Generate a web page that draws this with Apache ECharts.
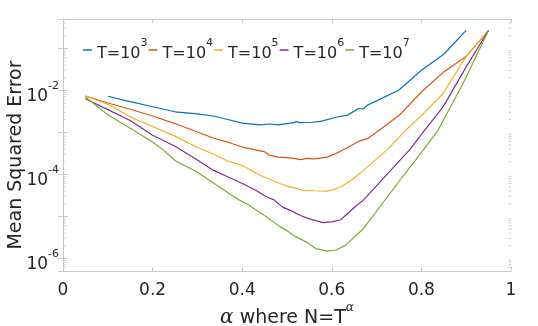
<!DOCTYPE html>
<html>
<head>
<meta charset="utf-8">
<script src="https://cdn.jsdelivr.net/npm/echarts@6/dist/echarts.min.js"></script>
<style>
html,body{margin:0;padding:0;background:#fff;}
#chart{width:538px;height:326px;}
</style>
</head>
<body>
<div id="chart"></div>
<script>
// ---- data ----
const seriesNames = ['T=10^3', 'T=10^4', 'T=10^5', 'T=10^6', 'T=10^7'];
const seriesColors = ['#0072BD', '#D95319', '#EDB120', '#7E2F8E', '#77AC30'];

const alphaT3 = [0.10, 0.15, 0.20, 0.25, 0.30, 0.335, 0.37, 0.40, 0.44, 0.46, 0.48, 0.50, 0.515, 0.52, 0.53, 0.555, 0.575, 0.61, 0.635, 0.66, 0.67, 0.68, 0.70, 0.75, 0.80, 0.85, 0.90];
const mseT3 = [7.24e-3, 5.37e-3, 4.07e-3, 3.09e-3, 2.75e-3, 2.45e-3, 2.0e-3, 1.66e-3, 1.51e-3, 1.58e-3, 1.51e-3, 1.62e-3, 1.70e-3, 1.80e-3, 1.70e-3, 1.74e-3, 1.82e-3, 2.29e-3, 2.57e-3, 3.70e-3, 3.60e-3, 4.47e-3, 5.62e-3, 1.02e-2, 3.02e-2, 7.24e-2, 0.269];

const alphaT4 = [0.05, 0.10, 0.15, 0.20, 0.25, 0.30, 0.335, 0.37, 0.40, 0.44, 0.45, 0.46, 0.48, 0.50, 0.515, 0.53, 0.545, 0.56, 0.59, 0.61, 0.63, 0.665, 0.68, 0.75, 0.80, 0.85, 0.90, 0.95];
const mseT4 = [7.33e-3, 5.01e-3, 3.55e-3, 2.45e-3, 1.62e-3, 1.02e-3, 7.33e-4, 5.75e-4, 4.47e-4, 3.63e-4, 3.47e-4, 2.88e-4, 2.57e-4, 2.51e-4, 2.40e-4, 2.24e-4, 2.40e-4, 2.34e-4, 2.57e-4, 3.16e-4, 4.07e-4, 6.46e-4, 7.08e-4, 2.51e-3, 9.12e-3, 2.75e-2, 6.46e-2, 0.269];

const alphaT5 = [0.05, 0.10, 0.15, 0.20, 0.25, 0.30, 0.335, 0.365, 0.40, 0.44, 0.48, 0.505, 0.52, 0.535, 0.56, 0.59, 0.60, 0.62, 0.645, 0.665, 0.725, 0.765, 0.80, 0.848, 0.90, 0.95];
const mseT5 = [7.33e-3, 4.68e-3, 2.34e-3, 1.38e-3, 8.13e-4, 4.37e-4, 3.09e-4, 2.14e-4, 1.62e-4, 9.55e-5, 6.31e-5, 5.01e-5, 4.68e-5, 4.17e-5, 4.07e-5, 3.98e-5, 4.27e-5, 5.01e-5, 7.41e-5, 1.10e-4, 3.98e-4, 1.12e-3, 2.51e-3, 8.32e-3, 6.46e-2, 0.269];

const alphaT6 = [0.05, 0.10, 0.15, 0.20, 0.25, 0.30, 0.335, 0.37, 0.405, 0.43, 0.455, 0.47, 0.49, 0.51, 0.53, 0.55, 0.58, 0.60, 0.62, 0.655, 0.67, 0.775, 0.807, 0.848, 0.90, 0.95];
const mseT6 = [6.31e-3, 3.47e-3, 1.91e-3, 8.51e-4, 4.68e-4, 2.19e-4, 1.26e-4, 8.51e-5, 5.75e-5, 4.17e-5, 2.88e-5, 2.51e-5, 1.66e-5, 1.35e-5, 1.05e-5, 8.71e-6, 7.08e-6, 7.41e-6, 8.32e-6, 1.82e-5, 2.40e-5, 3.98e-4, 1.12e-3, 3.98e-3, 3.63e-2, 0.269];

const alphaT7 = [0.05, 0.10, 0.15, 0.20, 0.225, 0.25, 0.30, 0.335, 0.37, 0.395, 0.41, 0.45, 0.485, 0.50, 0.52, 0.545, 0.565, 0.59, 0.61, 0.63, 0.67, 0.75, 0.805, 0.837, 0.893, 0.95];
const mseT7 = [6.92e-3, 2.63e-3, 1.26e-3, 5.89e-4, 3.72e-4, 2.14e-4, 1.12e-4, 6.31e-5, 3.55e-5, 2.40e-5, 2.0e-5, 1.05e-5, 5.62e-6, 4.57e-6, 3.24e-6, 2.40e-6, 1.70e-6, 1.48e-6, 1.58e-6, 2.04e-6, 5.01e-6, 6.76e-5, 3.89e-4, 1.12e-3, 1.45e-2, 0.269];

const xTicks = [0, 0.2, 0.4, 0.6, 0.8, 1];
const yMin = 5e-7, yMax = 0.5;
const yLabelExponents = [-2, -4, -6];
const minorMultipliers = [2, 3, 4, 5, 6, 7, 8, 9];
const minorDecades = [-7, -6, -5, -4, -3, -2, -1];

// ---- build ----
const alphas = [alphaT3, alphaT4, alphaT5, alphaT6, alphaT7];
const mses = [mseT3, mseT4, mseT5, mseT6, mseT7];

const minorTickData = [];
minorDecades.forEach(d => minorMultipliers.forEach(m => {
  const v = m * Math.pow(10, d);
  if (v > yMin && v < yMax) minorTickData.push([0, v]);
}));

const FONT = 'DejaVu Sans';
const TXT = '#262626';
const AX = '#c8c8c8';

const lineSeries = seriesNames.map((name, i) => ({
  name: name,
  type: 'line',
  data: alphas[i].map((a, j) => [a, mses[i][j]]),
  symbol: 'none',
  smooth: false,
  lineStyle: { width: 1.2, color: seriesColors[i] },
  itemStyle: { color: seriesColors[i] },
  emphasis: { disabled: true },
  xAxisIndex: 0, yAxisIndex: 0,
  z: 3 + i
}));

const minorSeries = {
  type: 'custom',
  silent: true,
  xAxisIndex: 0, yAxisIndex: 0,
  data: minorTickData,
  renderItem: function (params, api) {
    const v = api.value(1);
    const pL = api.coord([0, v]);
    const pR = api.coord([1, v]);
    return {
      type: 'group',
      children: [
        { type: 'line', shape: { x1: pL[0], y1: pL[1], x2: pL[0] + 2.5, y2: pL[1] }, style: { stroke: AX, lineWidth: 1 } },
        { type: 'line', shape: { x1: pR[0] - 2.5, y1: pR[1], x2: pR[0], y2: pR[1] }, style: { stroke: AX, lineWidth: 1 } }
      ]
    };
  },
  z: 1
};

function yLabel(v) {
  const l = Math.log10(v);
  const r = Math.round(l);
  if (Math.abs(l - r) > 1e-6 || yLabelExponents.indexOf(r) < 0) return '';
  return '{b|10}{s|' + r + '}';
}

const xAxisBase = {
  type: 'value', min: xTicks[0], max: xTicks[xTicks.length - 1], interval: 0.2,
  axisLine: { show: true, lineStyle: { color: AX, width: 1 } },
  axisTick: { show: true, inside: true, length: 4, lineStyle: { color: AX } },
  splitLine: { show: false }
};
const yAxisBase = {
  type: 'log', logBase: 10, min: yMin, max: yMax,
  axisLine: { show: true, lineStyle: { color: AX, width: 1 } },
  axisTick: { show: true, inside: true, length: 5, lineStyle: { color: AX } },
  splitLine: { show: false },
  minorTick: { show: false }
};

const option = {
  animation: false,
  backgroundColor: '#ffffff',
  grid: { left: 63, top: 19, width: 448, height: 252, containLabel: false, outerBoundsMode: 'none' },
  legend: {
    data: seriesNames,
    left: 83, top: 38, padding: 0,
    icon: 'rect',
    itemWidth: 9, itemHeight: 1.5, itemGap: 1,
    selectedMode: false,
    formatter: function (name) { return '{b|T=10}{s|' + name.split('^')[1] + '}'; },
    textStyle: {
      rich: {
        b: { fontFamily: FONT, fontSize: 16, color: TXT, lineHeight: 24, verticalAlign: 'bottom' },
        s: { fontFamily: FONT, fontSize: 11, color: TXT, lineHeight: 12, verticalAlign: 'top' }
      }
    }
  },
  xAxis: [
    Object.assign({}, xAxisBase, {
      position: 'bottom',
      axisLabel: { show: true, margin: 11, fontFamily: FONT, fontSize: 17, color: TXT },
      name: '{a|α}{t| where N=T}{s|α}',
      nameLocation: 'middle', nameGap: 31, nameMoveOverlap: false,
      nameTextStyle: {
        rich: {
          a: { fontFamily: 'DejaVu Serif', fontStyle: 'italic', fontSize: 20, color: TXT, lineHeight: 26, verticalAlign: 'bottom' },
          t: { fontFamily: FONT, fontSize: 19, color: TXT, lineHeight: 26, verticalAlign: 'bottom' },
          s: { fontFamily: 'DejaVu Serif', fontStyle: 'italic', fontSize: 12, color: TXT, lineHeight: 13, verticalAlign: 'top' }
        }
      }
    }),
    Object.assign({}, xAxisBase, { position: 'top', axisLabel: { show: false } })
  ],
  yAxis: [
    Object.assign({}, yAxisBase, {
      position: 'left',
      axisLabel: {
        show: true, margin: 4, formatter: yLabel, padding: [5, 0, 0, 0],
        rich: {
          b: { fontFamily: FONT, fontSize: 17, color: TXT, lineHeight: 24, verticalAlign: 'bottom' },
          s: { fontFamily: FONT, fontSize: 11, color: TXT, lineHeight: 12, verticalAlign: 'top' }
        }
      },
      name: 'Mean Squared Error',
      nameLocation: 'middle', nameGap: 37, nameMoveOverlap: false,
      nameTextStyle: { fontFamily: FONT, fontSize: 19, color: TXT, padding: [0, 20, 0, 0] }
    }),
    Object.assign({}, yAxisBase, { position: 'right', axisLabel: { show: false } })
  ],
  series: [minorSeries].concat(lineSeries)
};

const chart = echarts.init(document.getElementById('chart'), null, { renderer: 'canvas' });
chart.setOption(option);
</script>
</body>
</html>
